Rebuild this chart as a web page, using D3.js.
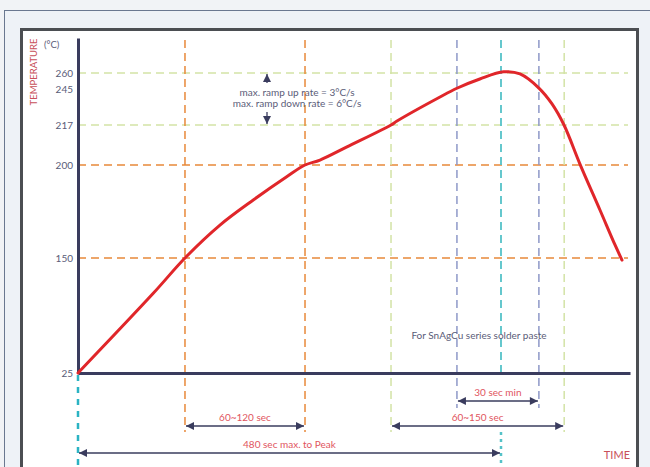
<!DOCTYPE html>
<html><head><meta charset="utf-8">
<script src="https://cdn.jsdelivr.net/npm/d3@7"></script>
<style>
html,body{margin:0;padding:0;background:#f1f3f6;}
svg{display:block;}
text{font-family:Lato,"Open Sans",sans-serif;}
</style></head>
<body><svg id="c" width="650" height="467"></svg>
<script>
// ---- data ----
const yTickValues = [25, 150, 200, 217, 245, 260];
const guideTemps = [260, 217, 200, 150];
const guideTempKinds = ["liquidus", "liquidus", "soak", "soak"];
const markerTimes = [121.4, 257.6, 355.2, 430, 480, 523, 551.7];
const markerKinds = ["soak", "soak", "liquidus", "peakwin", "peak", "peakwin", "liquidus"];
const curveTime = [0, 85.4, 121.4, 161.1, 198.9, 236.8, 257.6, 274.6, 305.2, 355.2, 362, 410.8, 430, 456, 483, 501.6, 523, 537.7, 551.5, 569.6, 592.3, 609.4, 617.3];
const curveTemp = [25, 111.6, 150, 167.7, 181.2, 193.7, 200, 202.1, 207.7, 217, 220.1, 238.8, 245.7, 254.4, 260.5, 259.1, 245.9, 233.6, 217, 200.4, 175.8, 157, 147.8];
const spanLabels = ["30 sec min", "60~150 sec", "60~120 sec", "480 sec max. to Peak"];
const spanFrom = [430, 355.2, 121.4, 0];
const spanTo = [523, 551.7, 257.6, 480];
const rateLines = ["max. ramp up rate = 3°C/s", "max. ramp down rate = 6°C/s"];
const noteText = "For SnAgCu series solder paste";

// ---- styles ----
const colors = {soak: "#e8893a", liquidus: "#d3e3a6", peakwin: "#8e98c8", peak: "#55c2c8"};
const navy = "#3a3c5e";
const labelRed = "#df5560";

const svg = d3.select("#c");

// frame
svg.append("rect").attr("x", 4.5).attr("y", 10.5).attr("width", 660).attr("height", 470)
  .attr("fill", "#eef2f7").attr("stroke", "#6a7890").attr("stroke-width", 1);
svg.append("rect").attr("x", 21.5).attr("y", 29.5).attr("width", 616).attr("height", 460)
  .attr("fill", "#ffffff").attr("stroke", "#4b4e52").attr("stroke-width", 3);

// scales
const x = d3.scaleLinear().domain([0, 480]).range([78, 501]);
const y = d3.scaleLinear().domain([25, 150, 200, 217, 245, 260, 275]).range([373, 258, 165, 125, 89, 73, 38]);
const axisBottomY = y(25);
const xEnd = 626.4;

// horizontal guides
guideTemps.forEach((t, i) => {
  svg.append("line").attr("x1", x(0)).attr("x2", x(xEnd) - 2).attr("y1", y(t)).attr("y2", y(t))
    .attr("stroke", colors[guideTempKinds[i]]).attr("stroke-width", 1.5).attr("stroke-dasharray", "8,5");
});

// vertical markers
const markerBottom = {soak: 432, liquidus: 432, peakwin: 408};
markerTimes.forEach((t, i) => {
  const k = markerKinds[i];
  if (k === "peak") {
    svg.append("line").attr("x1", x(t)).attr("x2", x(t)).attr("y1", 40).attr("y2", axisBottomY)
      .attr("stroke", colors.peak).attr("stroke-width", 1.8).attr("stroke-dasharray", "8,5");
    svg.append("line").attr("x1", x(t)).attr("x2", x(t)).attr("y1", 432).attr("y2", 467)
      .attr("stroke", colors.peak).attr("stroke-width", 2.5).attr("stroke-dasharray", "3,4");
  } else {
    svg.append("line").attr("x1", x(t)).attr("x2", x(t)).attr("y1", 40).attr("y2", markerBottom[k])
      .attr("stroke", colors[k]).attr("stroke-width", 1.5).attr("stroke-dasharray", "8,5");
  }
});
// start marker below axis
svg.append("line").attr("x1", x(0)).attr("x2", x(0)).attr("y1", axisBottomY + 2).attr("y2", 467)
  .attr("stroke", "#2bb3c3").attr("stroke-width", 2.5).attr("stroke-dasharray", "6,6");

// axes
const yAxis = d3.axisLeft(y).tickValues(yTickValues).tickSize(0).tickPadding(5).tickFormat(d3.format("d"));
const gy = svg.append("g").attr("transform", `translate(${x(0)},0)`).call(yAxis);
gy.select(".domain").attr("stroke", navy).attr("stroke-width", 3);
gy.selectAll("text").attr("fill", "#5a5c78").attr("font-size", 10);

const xAxis = d3.axisBottom(x.copy().domain([0, xEnd]).range([x(0), x(xEnd)])).tickValues([]).tickSizeOuter(0);
const gx = svg.append("g").attr("transform", `translate(0,${axisBottomY})`).call(xAxis);
gx.select(".domain").attr("stroke", navy).attr("stroke-width", 3);

// curve
const line = d3.line().x(d => x(d[0])).y(d => y(d[1])).curve(d3.curveCatmullRom.alpha(0.5));
svg.append("path").datum(curveTime.map((t, i) => [t, curveTemp[i]]))
  .attr("d", line).attr("fill", "none").attr("stroke", "#e0262a").attr("stroke-width", 3)
  .attr("stroke-linecap", "round");

// axis titles
svg.append("text").attr("transform", "translate(37,72) rotate(-90)").attr("text-anchor", "middle")
  .attr("fill", "#c8505a").attr("font-size", 9.5).text("TEMPERATURE");
svg.append("text").attr("x", 44).attr("y", 48).attr("fill", "#5a5c78").attr("font-size", 9.5).text("(°C)");
svg.append("text").attr("x", 630).attr("y", 459).attr("text-anchor", "end")
  .attr("fill", "#c8505a").attr("font-size", 11).text("TIME");

// arrow marker defs
const defs = svg.append("defs");
["s", "e"].forEach(k => {
  defs.append("marker").attr("id", "ar" + k).attr("viewBox", "0 0 10 10").attr("refX", 10).attr("refY", 5)
    .attr("markerWidth", 10).attr("markerHeight", 8).attr("markerUnits", "userSpaceOnUse")
    .attr("orient", k === "s" ? "auto-start-reverse" : "auto")
    .append("path").attr("d", "M0,0L10,5L0,10Z").attr("fill", navy);
});

// span arrows
const spanY = [401, 426, 426, 453];
spanLabels.forEach((lab, i) => {
  const x1 = x(spanFrom[i]) + 1, x2 = x(spanTo[i]) - 1;
  svg.append("line").attr("x1", x1).attr("x2", x2).attr("y1", spanY[i]).attr("y2", spanY[i])
    .attr("stroke", navy).attr("stroke-width", 1.3)
    .attr("marker-start", "url(#ars)").attr("marker-end", "url(#are)");
  svg.append("text").attr("x", (x1 + x2) / 2).attr("y", spanY[i] - 5).attr("text-anchor", "middle")
    .attr("fill", labelRed).attr("font-size", 10).text(lab);
});

// ramp rate annotation
const rx = 267;
svg.append("line").attr("x1", rx).attr("x2", rx).attr("y1", 83).attr("y2", y(260) + 1)
  .attr("stroke", navy).attr("stroke-width", 1.3).attr("marker-end", "url(#are)");
svg.append("line").attr("x1", rx).attr("x2", rx).attr("y1", 112).attr("y2", y(217) - 1)
  .attr("stroke", navy).attr("stroke-width", 1.3).attr("marker-end", "url(#are)");
rateLines.forEach((t, i) => {
  svg.append("text").attr("x", 297).attr("y", 95.5 + i * 11.5).attr("text-anchor", "middle")
    .attr("fill", "#5a5c78").attr("font-size", 10).text(t);
});
svg.append("text").attr("x", 479).attr("y", 338.5).attr("text-anchor", "middle")
  .attr("fill", "#5a5c78").attr("font-size", 10).text(noteText);
</script></body></html>
